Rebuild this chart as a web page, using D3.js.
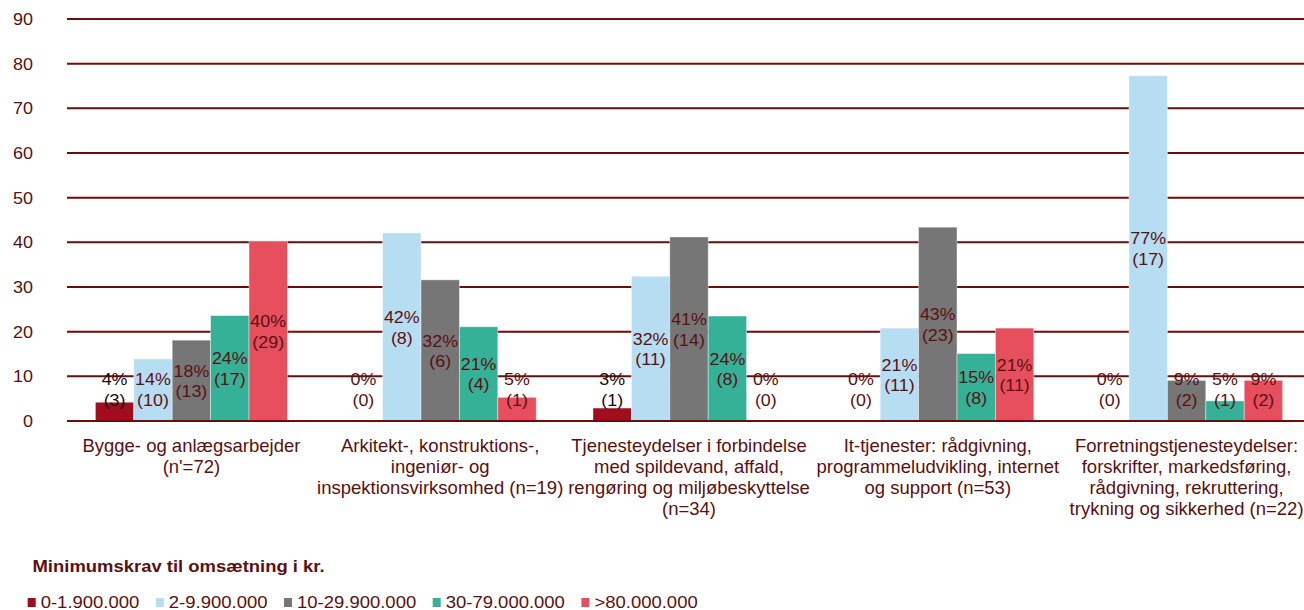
<!DOCTYPE html>
<html><head><meta charset="utf-8">
<script src="https://cdn.jsdelivr.net/npm/d3@7"></script>
<style>body{margin:0;background:#fff;} svg{display:block;font-family:"Liberation Sans",Arial,sans-serif;}</style>
</head><body><svg id="c" width="1304" height="610"></svg>
<script>
const categories = [
  ["Bygge- og anlægsarbejder","(n'=72)"],
  ["Arkitekt-, konstruktions-,","ingeniør- og","inspektionsvirksomhed (n=19)"],
  ["Tjenesteydelser i forbindelse","med spildevand, affald,","rengøring og miljøbeskyttelse","(n=34)"],
  ["It-tjenester: rådgivning,","programmeludvikling, internet","og support (n=53)"],
  ["Forretningstjenesteydelser:","forskrifter, markedsføring,","rådgivning, rekruttering,","trykning og sikkerhed (n=22)"]
];
const seriesNames = ["0-1.900.000","2-9.900.000","10-29.900.000","30-79.000.000",">80.000.000"];
const seriesColors = ["#a00d1f","#b7ddf3","#767676","#35b197","#e84f5e"];
// percentages per series (one value per category)
const s0 = [4.2, 0, 2.9, 0, 0];
const s1 = [13.9, 42.1, 32.4, 20.8, 77.3];
const s2 = [18.1, 31.6, 41.2, 43.4, 9.1];
const s3 = [23.6, 21.1, 23.5, 15.1, 4.5];
const s4 = [40.3, 5.3, 0, 20.8, 9.1];
// label texts
const pct0 = ["4%","0%","3%","0%","0%"], cnt0 = ["(3)","(0)","(1)","(0)","(0)"];
const pct1 = ["14%","42%","32%","21%","77%"], cnt1 = ["(10)","(8)","(11)","(11)","(17)"];
const pct2 = ["18%","32%","41%","43%","9%"], cnt2 = ["(13)","(6)","(14)","(23)","(2)"];
const pct3 = ["24%","21%","24%","15%","5%"], cnt3 = ["(17)","(4)","(8)","(8)","(1)"];
const pct4 = ["40%","5%","0%","21%","9%"], cnt4 = ["(29)","(1)","(0)","(11)","(2)"];
const yTicks = [0,10,20,30,40,50,60,70,80,90];
const legendTitle = "Minimumskrav til omsætning i kr.";

const values = [s0,s1,s2,s3,s4], pcts=[pct0,pct1,pct2,pct3,pct4], cnts=[cnt0,cnt1,cnt2,cnt3,cnt4];
const svg = d3.select("#c");
const maroon = "#5c0f10", grid = "#6e0b0b";
const mL = 67, mR = 1311, mT = 19, mB = 421;
const y = d3.scaleLinear().domain([0,90]).range([mB, mT]);
const x0 = d3.scaleBand().domain(d3.range(categories.length)).range([mL, mR]);
const x1 = d3.scaleBand().domain(d3.range(seriesNames.length)).range([0, x0.bandwidth()]).paddingOuter(0.739);

function stretch(sel, f){
  sel.each(function(){
    const w = this.getComputedTextLength();
    d3.select(this).attr("textLength", w*f).attr("lengthAdjust","spacingAndGlyphs");
  });
}

// gridlines
svg.append("g").selectAll("line").data(yTicks).join("line")
  .attr("x1", mL).attr("x2", 1304).attr("y1", d=>y(d)).attr("y2", d=>y(d))
  .attr("stroke", grid).attr("stroke-width", 2);
// y axis labels
svg.append("g").selectAll("text").data(yTicks).join("text")
  .attr("x", 33).attr("y", d=>y(d)).attr("dy","0.36em").attr("text-anchor","end")
  .attr("font-size",16.5).attr("fill",maroon).text(d=>d)
  .call(stretch, 1.09);

// bars
const groups = svg.append("g").selectAll("g").data(categories).join("g")
  .attr("transform",(d,i)=>`translate(${x0(i)},0)`);
groups.each(function(cat, ci){
  const g = d3.select(this);
  values.forEach((sv, si)=>{
    const v = sv[ci];
    if (v>0) g.append("rect").attr("x", x1(si)).attr("width", x1.bandwidth())
      .attr("y", y(v)).attr("height", y(0)-y(v)).attr("fill", seriesColors[si])
      .attr("stroke","#ffffff").attr("stroke-opacity",0.5).attr("stroke-width",0.8);
  });
  values.forEach((sv, si)=>{
    const v = sv[ci];
    const cy = Math.min((y(v)+y(0))/2, 389);
    const col = (si===0 && v>0) ? "#1a0a0a" : maroon;
    const cx = x1(si)+x1.bandwidth()/2;
    [pcts[si][ci], cnts[si][ci]].forEach((s, k)=>{
      g.append("text").attr("text-anchor","middle").attr("font-size",17).attr("fill",col)
        .attr("x", cx).attr("y", cy-10+k*20.5).attr("dy","0.36em").text(s)
        .call(stretch, 1.05);
    });
  });
});
// x axis line
svg.append("line").attr("x1",mL).attr("x2",1304).attr("y1",y(0)).attr("y2",y(0)).attr("stroke",grid).attr("stroke-width",2);

// category labels
categories.forEach((lines, i)=>{
  lines.forEach((l, li)=>{
    svg.append("text").attr("text-anchor","middle").attr("font-size",18.5).attr("fill",maroon)
      .attr("x", x0(i)+x0.bandwidth()/2).attr("y", 445+li*21).attr("dy","0.36em").text(l);
  });
});

// legend
svg.append("text").attr("x",32.5).attr("y",571.5).attr("font-size",17).attr("font-weight","bold")
  .attr("fill",maroon).text(legendTitle).call(stretch, 1.085);
let lx = 27.7;
seriesNames.forEach((n,i)=>{
  svg.append("rect").attr("x",lx).attr("y",598).attr("width",8).attr("height",9).attr("fill",seriesColors[i]);
  const t = svg.append("text").attr("x",lx+13).attr("y",607.5).attr("font-size",16.5).attr("fill",maroon).text(n)
    .call(stretch, 1.12);
  lx += 13 + (+t.attr("textLength")) + 16.5;
});
</script></body></html>
